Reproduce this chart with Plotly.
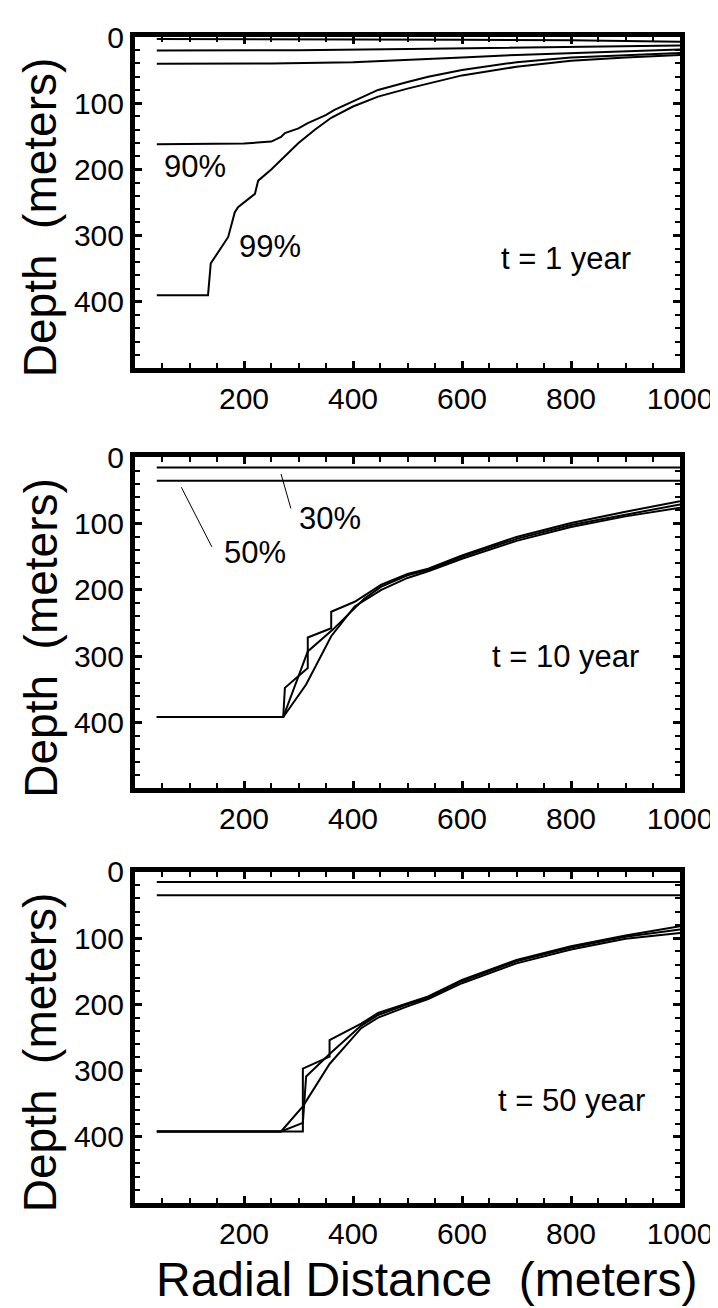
import plotly.graph_objects as go
from plotly.subplots import make_subplots

# --- t = 1 year : depth (m) vs radial distance (m) ---
r1_10 = [40, 300, 600, 800, 1000]
d1_10 = [3, 3, 4, 5, 7]
r1_30 = [40, 300, 500, 700, 850, 1000]
d1_30 = [20.5, 20, 18, 16, 14.5, 13]
r1_50 = [40, 250, 400, 500, 600, 700, 800, 900, 1000]
d1_50 = [40.5, 40, 38, 35, 31, 27, 24, 21, 19]
r1_90 = [40, 100, 150, 200, 250, 268, 275, 300, 317, 350, 366, 400, 446, 500, 538, 600, 700, 800, 900, 1000]
d1_90 = [162, 162, 162, 161, 158, 151, 145, 138, 130, 118, 110, 97, 80, 68, 60, 50, 38, 31, 27, 24]
r1_99 = [40, 134, 139, 171, 183, 189, 220, 226, 250, 272, 300, 330, 360, 400, 446, 500, 538, 600, 700, 800, 900, 1000]
d1_99 = [390, 390, 342, 302, 265, 257, 237, 217, 200, 182, 160, 140, 122, 105, 90, 78, 70, 58, 45, 36, 31, 27]

# --- t = 10 year ---
r10_30 = [40, 1000]
d10_30 = [15, 15]
r10_50 = [40, 1000]
d10_50 = [35, 35]
r10_a = [40, 272, 275, 317, 317, 360, 360, 403, 452, 500, 538, 600, 700, 800, 900, 1000]
d10_a = [392, 392, 348, 318, 272, 258, 233, 218, 192, 176, 168, 148, 120, 99, 82, 66]
r10_b = [40, 272, 314, 360, 403, 452, 500, 538, 600, 700, 800, 900, 1000]
d10_b = [392, 392, 343, 270, 225, 200, 182, 172, 153, 126, 105, 89, 76]
r10_c = [40, 272, 317, 363, 421, 452, 500, 538, 600, 700, 800, 900, 1000]
d10_c = [392, 392, 293, 260, 213, 195, 178, 170, 150, 123, 102, 86, 71]

# --- t = 50 year ---
r50_30 = [40, 1000]
d50_30 = [15, 15]
r50_50 = [40, 1000]
d50_50 = [35, 35]
r50_a = [40, 308, 308, 357, 357, 415, 446, 500, 538, 600, 700, 800, 900, 1000]
d50_a = [392, 392, 297, 279, 254, 229, 213, 198, 188, 163, 133, 112, 96, 82]
r50_b = [40, 268, 308, 357, 415, 446, 500, 538, 600, 700, 800, 900, 1000]
d50_b = [392, 392, 354, 290, 236, 220, 203, 192, 168, 138, 117, 101, 92]
r50_c = [40, 268, 308, 314, 357, 415, 446, 500, 538, 600, 700, 800, 900, 1000]
d50_c = [392, 392, 379, 309, 275, 232, 216, 200, 190, 165, 135, 114, 98, 87]

# labels placed on the panels (x, y in data units)
labels_t1 = [("90%", 110, 195), ("99%", 247, 317), ("t = 1 year", 790, 335)]
labels_t10 = [("30%", 357, 92), ("50%", 220, 143), ("t = 10 year", 790, 300)]
labels_t50 = [("t = 50 year", 800, 345)]
# leader lines of the t = 10 panel : (x0, y0, x1, y1)
leaders_t10 = [(268, 25, 286, 77), (85, 45, 141, 135)]

x_ticks = [200, 400, 600, 800, 1000]
y_ticks = [0, 100, 200, 300, 400]

FONT = "Liberation Sans, Arial, sans-serif"

fig = make_subplots(rows=3, cols=1)

panels = [
    [(r1_10, d1_10), (r1_30, d1_30), (r1_50, d1_50), (r1_90, d1_90), (r1_99, d1_99)],
    [(r10_30, d10_30), (r10_50, d10_50), (r10_a, d10_a), (r10_b, d10_b), (r10_c, d10_c)],
    [(r50_30, d50_30), (r50_50, d50_50), (r50_a, d50_a), (r50_b, d50_b), (r50_c, d50_c)],
]
for i, courbes in enumerate(panels):
    for r, d in courbes:
        fig.add_trace(go.Scatter(x=r, y=d, mode="lines", line=dict(color="black", width=2),
                                 showlegend=False, hoverinfo="skip"), row=i + 1, col=1)

# domaines verticaux des trois panneaux
domains = [[0.7161, 1.0], [0.3555, 0.6394], [0.0, 0.2839]]

for i in range(3):
    fig.update_xaxes(range=[0, 1000], tickvals=x_ticks, ticks="inside", ticklen=7, tickwidth=3,
                     tickcolor="black", showline=True, linewidth=5, linecolor="black", mirror="ticks",
                     showgrid=False, zeroline=False,
                     minor=dict(dtick=50, ticks="inside", ticklen=5, tickwidth=2, tickcolor="black"),
                     tickfont=dict(family=FONT, size=30, color="black"), row=i + 1, col=1)
    fig.update_yaxes(range=[500, 0], tickvals=y_ticks, ticks="inside", ticklen=7, tickwidth=3,
                     tickcolor="black", showline=True, linewidth=5, linecolor="black", mirror="ticks",
                     showgrid=False, zeroline=False, domain=domains[i],
                     minor=dict(dtick=20, ticks="inside", ticklen=5, tickwidth=2, tickcolor="black"),
                     tickfont=dict(family=FONT, size=30, color="black"), row=i + 1, col=1)

# textes dans les panneaux
for i, labels in enumerate([labels_t1, labels_t10, labels_t50]):
    xr = "x" if i == 0 else f"x{i + 1}"
    yr = "y" if i == 0 else f"y{i + 1}"
    for txt, x, y in labels:
        fig.add_annotation(x=x, y=y, xref=xr, yref=yr, text=txt, showarrow=False,
                           font=dict(family=FONT, size=31, color="black"))
    # titre de l'axe vertical
    fig.add_annotation(x=-0.174, y=0.456, xref="paper", yref=f"{yr} domain",
                       text="Depth \u00a0(meters)", textangle=-90, showarrow=False,
                       xanchor="center", yanchor="middle",
                       font=dict(family=FONT, size=46, color="black"))

for x0, y0, x1, y1 in leaders_t10:
    fig.add_shape(type="line", x0=x0, y0=y0, x1=x1, y1=y1, xref="x2", yref="y2",
                  line=dict(color="black", width=1))

fig.add_annotation(x=0.535, y=-0.0656, xref="paper", yref="paper",
                   text="Radial Distance \u00a0(meters)", showarrow=False,
                   xanchor="center", yanchor="middle",
                   font=dict(family=FONT, size=48, color="black"))

fig.update_layout(width=718, height=1308, plot_bgcolor="white", paper_bgcolor="white",
                  margin=dict(l=127, r=46, t=22, b=113))

fig.write_html("out.html")
